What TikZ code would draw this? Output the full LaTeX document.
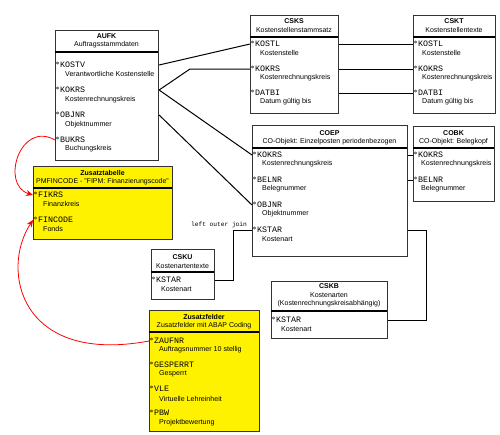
\documentclass[tikz,border=0pt]{standalone}
\usepackage{fontspec}
\setmainfont{Liberation Sans}
\newfontfamily\monof{Liberation Mono}
\usetikzlibrary{arrows.meta}
\tikzset{
  tblbox/.style={draw=black!80, line width=1.1pt, anchor=north west, inner sep=0pt},
  yel/.style={fill=yellow},
  ttl/.style={font=\bfseries\fontsize{7}{8}\selectfont, inner sep=0pt},
  sub/.style={font=\fontsize{7}{8}\selectfont, inner sep=0pt},
  sepline/.style={line width=1.6pt, black},
  fname/.style={font=\monof\fontsize{8.3}{9}\selectfont, anchor=west, inner sep=0pt},
  fdesc/.style={font=\fontsize{7.1}{8}\selectfont, anchor=west, inner sep=0pt},
  degm/.style={line width=0.4pt},
  conn/.style={line width=1pt, black},
  rconn/.style={line width=0.8pt, red, -{Stealth[length=7pt,width=6pt]}},
  lbl/.style={font=\monof\fontsize{6.2}{7}\selectfont, inner sep=0pt}
}
\begin{document}
\begin{tikzpicture}[x=1pt,y=-1pt]
\useasboundingbox (0,0) rectangle (500,434);
\fill[white] (0,0) rectangle (500,434);

% ---------- AUFK ----------
\node[tblbox, minimum width=103pt, minimum height=130pt] (aufk) at (55,30) {};
\node[ttl] (aufkT) at (106.5,36) {AUFK};
\node[sub] (aufkS) at (106.5,45) {Auftragsstammdaten};
\draw[sepline] (55,52) -- (158,52);
\draw[degm] (57.5,63) circle (1.1pt);
\node[fname] (aufkKOSTV) at (60,65) {KOSTV};
\node[fdesc] at (65,74) {Verantwortliche Kostenstelle};
\draw[degm] (57.5,88) circle (1.1pt);
\node[fname] (aufkKOKRS) at (60,90) {KOKRS};
\node[fdesc] at (65,100) {Kostenrechnungskreis};
\draw[degm] (57.5,113) circle (1.1pt);
\node[fname] (aufkOBJNR) at (60,115) {OBJNR};
\node[fdesc] at (65,125) {Objektnummer};
\draw[degm] (57.5,138) circle (1.1pt);
\node[fname] (aufkBUKRS) at (60,140) {BUKRS};
\node[fdesc] at (65,149) {Buchungskreis};

% ---------- Zusatztabelle ----------
\node[tblbox, yel, minimum width=139pt, minimum height=73pt] (zt) at (33,166) {};
\node[ttl] at (102.5,173) {Zusatztabelle};
\node[sub] at (102.5,182) {PMFINCODE - "FIPM: Finanzierungscode"};
\draw[sepline] (33,188) -- (172,188);
\draw[degm] (35.5,193) circle (1.1pt);
\node[fname] (ztFIKRS) at (38,195) {FIKRS};
\node[fdesc] at (43,204) {Finanzkreis};
\draw[degm] (35.5,218) circle (1.1pt);
\node[fname] (ztFINCODE) at (38,220) {FINCODE};
\node[fdesc] at (43,229) {Fonds};

% ---------- CSKS ----------
\node[tblbox, minimum width=88pt, minimum height=98pt] (csks) at (250,15) {};
\node[ttl] at (294,21) {CSKS};
\node[sub] at (294,30) {Kostenstellenstammsatz};
\draw[sepline] (250,37) -- (338,37);
\draw[degm] (252.5,42) circle (1.1pt);
\node[fname] (csksKOSTL) at (255,44) {KOSTL};
\node[fdesc] at (260,53) {Kostenstelle};
\draw[degm] (252.5,67) circle (1.1pt);
\node[fname] (csksKOKRS) at (255,69) {KOKRS};
\node[fdesc] at (260,78) {Kostenrechnungskreis};
\draw[degm] (252.5,91) circle (1.1pt);
\node[fname] (csksDATBI) at (255,93) {DATBI};
\node[fdesc] at (260,102) {Datum gültig bis};

% ---------- CSKT ----------
\node[tblbox, minimum width=82pt, minimum height=98pt] (cskt) at (413,15) {};
\node[ttl] at (454,21) {CSKT};
\node[sub] at (454,30) {Kostenstellentexte};
\draw[sepline] (413,37) -- (495,37);
\draw[degm] (415.5,42) circle (1.1pt);
\node[fname] (csktKOSTL) at (418,44) {KOSTL};
\node[fdesc] at (422,53) {Kostenstelle};
\draw[degm] (415.5,67) circle (1.1pt);
\node[fname] (csktKOKRS) at (418,69) {KOKRS};
\node[fdesc] at (422,78) {Kostenrechnungskreis};
\draw[degm] (415.5,91) circle (1.1pt);
\node[fname] (csktDATBI) at (418,93) {DATBI};
\node[fdesc] at (422,102) {Datum gültig bis};

% ---------- COEP ----------
\node[tblbox, minimum width=155pt, minimum height=131pt] (coep) at (252,125) {};
\node[ttl] at (329.5,133) {COEP};
\node[sub] at (329.5,142) {CO-Objekt: Einzelposten periodenbezogen};
\draw[sepline] (252,148) -- (407,148);
\draw[degm] (254.5,153) circle (1.1pt);
\node[fname] (coepKOKRS) at (257,155) {KOKRS};
\node[fdesc] at (262,164) {Kostenrechnungskreis};
\draw[degm] (254.5,178) circle (1.1pt);
\node[fname] (coepBELNR) at (257,180) {BELNR};
\node[fdesc] at (262,189) {Belegnummer};
\draw[degm] (254.5,203) circle (1.1pt);
\node[fname] (coepOBJNR) at (257,205) {OBJNR};
\node[fdesc] at (262,214) {Objektnummer};
\draw[degm] (254.5,228) circle (1.1pt);
\node[fname] (coepKSTAR) at (257,230) {KSTAR};
\node[fdesc] at (262,239) {Kostenart};

% ---------- COBK ----------
\node[tblbox, minimum width=81pt, minimum height=75pt] (cobk) at (413,126) {};
\node[ttl] at (453.5,133) {COBK};
\node[sub] at (453.5,142) {CO-Objekt: Belegkopf};
\draw[sepline] (413,148) -- (494,148);
\draw[degm] (415.5,153) circle (1.1pt);
\node[fname] (cobkKOKRS) at (418,155) {KOKRS};
\node[fdesc] at (421,164) {Kostenrechnungskreis};
\draw[degm] (415.5,178) circle (1.1pt);
\node[fname] (cobkBELNR) at (418,180) {BELNR};
\node[fdesc] at (421,189) {Belegnummer};

% ---------- CSKU ----------
\node[tblbox, minimum width=63pt, minimum height=50pt] (csku) at (151,249) {};
\node[ttl] at (182.5,257) {CSKU};
\node[sub] at (182.5,266) {Kostenartentexte};
\draw[sepline] (151,272) -- (214,272);
\draw[degm] (153.5,278) circle (1.1pt);
\node[fname] (cskuKSTAR) at (156,280) {KSTAR};
\node[fdesc] at (161,289) {Kostenart};

% ---------- CSKB ----------
\node[tblbox, minimum width=116pt, minimum height=57pt] (cskb) at (271,281) {};
\node[ttl] at (329,286) {CSKB};
\node[sub] at (329,295) {Kostenarten};
\node[sub] at (329,304) {(Kostenrechnungskreisabhängig)};
\draw[sepline] (271,311) -- (387,311);
\draw[degm] (273.5,318) circle (1.1pt);
\node[fname] (cskbKSTAR) at (276,320) {KSTAR};
\node[fdesc] at (281,329) {Kostenart};

% ---------- Zusatzfelder ----------
\node[tblbox, yel, minimum width=110pt, minimum height=121pt] (zf) at (149,310) {};
\node[ttl] at (204,317) {Zusatzfelder};
\node[sub] at (204,326) {Zusatzfelder mit ABAP Coding};
\draw[sepline] (149,332) -- (259,332);
\draw[degm] (151.5,339) circle (1.1pt);
\node[fname] (zfZAUFNR) at (154,341) {ZAUFNR};
\node[fdesc] at (159,350) {Auftragsnummer 10 stellig};
\draw[degm] (151.5,363) circle (1.1pt);
\node[fname] (zfGESPERRT) at (154,365) {GESPERRT};
\node[fdesc] at (159,374) {Gesperrt};
\draw[degm] (151.5,387) circle (1.1pt);
\node[fname] (zfVLE) at (154,389) {VLE};
\node[fdesc] at (159,399) {Virtuelle Lehreinheit};
\draw[degm] (151.5,411) circle (1.1pt);
\node[fname] (zfPBW) at (154,413) {PBW};
\node[fdesc] at (159,423) {Projektbewertung};

% ---------- connectors ----------
\coordinate (kink1) at (190,69);
\coordinate (kr1) at (426,230);
\coordinate (kr2) at (426,320);
\coordinate (kl1) at (233,230);
\coordinate (kl2) at (233,280);
\draw[conn] (aufk.east |- aufkKOSTV) -- (csks.west |- csksKOSTL);
\draw[conn] (aufk.east |- aufkKOKRS) -- (kink1) -- (csks.west |- csksKOKRS);
\draw[conn] (aufk.east |- aufkKOKRS) -- (coep.west |- coepKOKRS);
\draw[conn] (aufk.east |- aufkOBJNR) -- (coep.west |- coepOBJNR);
\draw[conn] (csks.east |- csksKOSTL) -- (cskt.west |- csktKOSTL);
\draw[conn] (csks.east |- csksKOKRS) -- (cskt.west |- csktKOKRS);
\draw[conn] (csks.east |- csksDATBI) -- (cskt.west |- csktDATBI);
\draw[conn] (coep.east |- coepKOKRS) -- (cobk.west |- cobkKOKRS);
\draw[conn] (coep.east |- coepBELNR) -- (cobk.west |- cobkBELNR);
\draw[conn] (coep.east |- coepKSTAR) -- (kr1) -- (kr2) -- (cskb.east |- cskbKSTAR);
\draw[conn] (coep.west |- coepKSTAR) -- (kl1) -- (kl2) -- (csku.east |- cskuKSTAR);
\node[lbl] (loj) at (219,225) {left outer join};

% ---------- red connectors ----------
\draw[rconn] (aufk.west |- aufkBUKRS) .. controls (20,120) and (0,185) .. (zt.west |- ztFIKRS);
\draw[rconn] (zf.west |- zfZAUFNR) .. controls (20,365) and (0,270) .. (zt.west |- ztFINCODE);
\end{tikzpicture}
\end{document}
